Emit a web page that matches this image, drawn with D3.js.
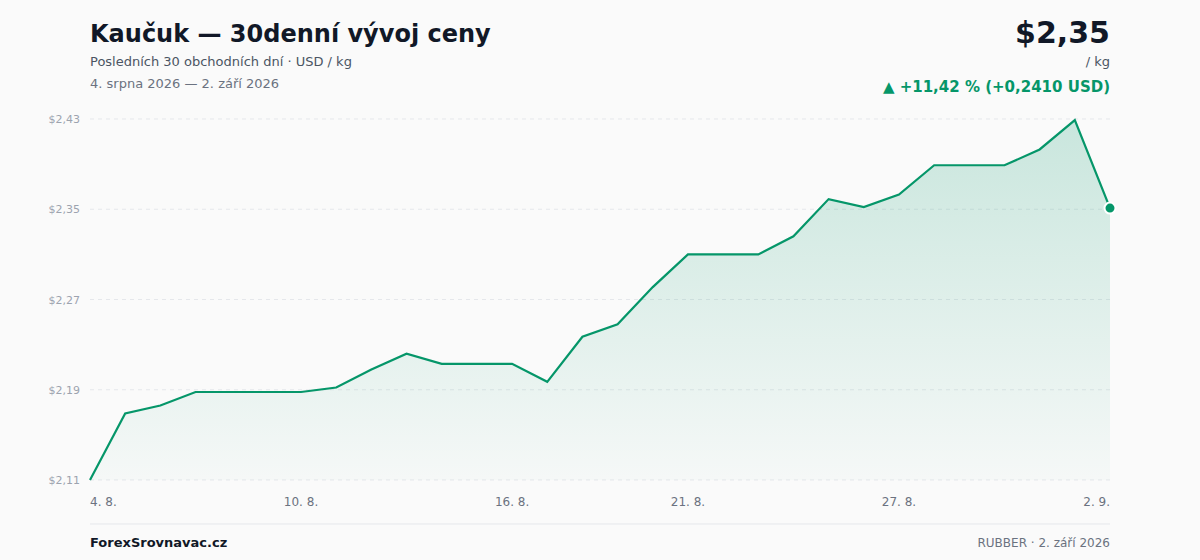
<!DOCTYPE html>
<html><head><meta charset="utf-8">
<script src="https://cdn.jsdelivr.net/npm/d3@7"></script>
<style>body{margin:0;background:#fafafa;font-family:"DejaVu Sans",sans-serif}</style>
</head><body><svg id="c" width="1200" height="560"></svg>
<script>
const values=[2.110,2.169,2.176,2.188,2.188,2.188,2.188,2.192,2.208,2.222,2.213,2.213,2.213,2.197,2.237,2.248,2.281,2.310,2.310,2.310,2.326,2.359,2.352,2.363,2.389,2.389,2.389,2.403,2.429,2.351];
const tickIdx=[0,6,12,17,23,29];
const tickLabels=["4. 8.","10. 8.","16. 8.","21. 8.","27. 8.","2. 9."];
const yTicks=[2.11,2.19,2.27,2.35,2.43];
const fmt=v=>"$"+v.toFixed(2).replace(".",",");
const svg=d3.select("#c");
svg.append("rect").attr("width",1200).attr("height",560).attr("fill","#fafafa");
const x=d3.scaleLinear().domain([0,values.length-1]).range([90,1110]);
const y=d3.scaleLinear().domain([2.11,2.43]).range([480,119]);
const defs=svg.append("defs");
const g=defs.append("linearGradient").attr("id","gr").attr("x1",0).attr("y1",0).attr("x2",0).attr("y2",1);
g.append("stop").attr("offset","0%").attr("stop-color","#059669").attr("stop-opacity",0.2);
g.append("stop").attr("offset","100%").attr("stop-color","#059669").attr("stop-opacity",0.02);
yTicks.forEach(t=>{
 svg.append("line").attr("x1",90).attr("x2",1110).attr("y1",y(t)).attr("y2",y(t)).attr("stroke","#e5e7eb").attr("stroke-dasharray","4,4");
 svg.append("text").attr("x",80).attr("y",y(t)+4).attr("text-anchor","end").attr("font-size",11).attr("fill","#9ca3af").text(fmt(t));
});
svg.append("path").datum(values).attr("fill","url(#gr)").attr("d",d3.area().x((d,i)=>x(i)).y0(480).y1(d=>y(d)));
svg.append("path").datum(values).attr("fill","none").attr("stroke","#059669").attr("stroke-width",2.2).attr("d",d3.line().x((d,i)=>x(i)).y(d=>y(d)));
svg.append("circle").attr("cx",x(29)).attr("cy",y(values[29])).attr("r",5.5).attr("fill","#059669").attr("stroke","#fff").attr("stroke-width",2);
tickIdx.forEach((ti,k)=>{
 svg.append("text").attr("x",x(ti)).attr("y",506).attr("text-anchor",k==0?"start":k==tickIdx.length-1?"end":"middle").attr("font-size",12).attr("fill","#6b7280").text(tickLabels[k]);
});
svg.append("line").attr("x1",90).attr("x2",1110).attr("y1",524).attr("y2",524).attr("stroke","#e5e7eb");
const t=(xx,yy,s,txt,o)=>{const e=svg.append("text").attr("x",xx).attr("y",yy).attr("font-size",s).text(txt);for(const k in o)e.attr(k,o[k]);return e;};
t(90,42,24,"Kaučuk — 30denní vývoj ceny",{"font-weight":"bold",fill:"#111827"});
t(90,66,13,"Posledních 30 obchodních dní · USD / kg",{fill:"#4b5563"});
t(90,88,13,"4. srpna 2026 — 2. září 2026",{fill:"#6b7280"});
t(1110,43,30,fmt(values[29]),{"font-weight":"bold",fill:"#111827","text-anchor":"end"});
t(1110,66,13,"/ kg",{fill:"#4b5563","text-anchor":"end"});
const ch=values[29]-values[0],pct=ch/values[0]*100;
t(1110,92,15,"▲ +"+pct.toFixed(2).replace(".",",")+" % (+"+ch.toFixed(4).replace(".",",")+" USD)",{"font-weight":"bold",fill:"#059669","text-anchor":"end"});
t(90,547,13,"ForexSrovnavac.cz",{"font-weight":"bold",fill:"#111827"});
t(1110,547,12,"RUBBER · 2. září 2026",{fill:"#6b7280","text-anchor":"end"});
</script></body></html>
